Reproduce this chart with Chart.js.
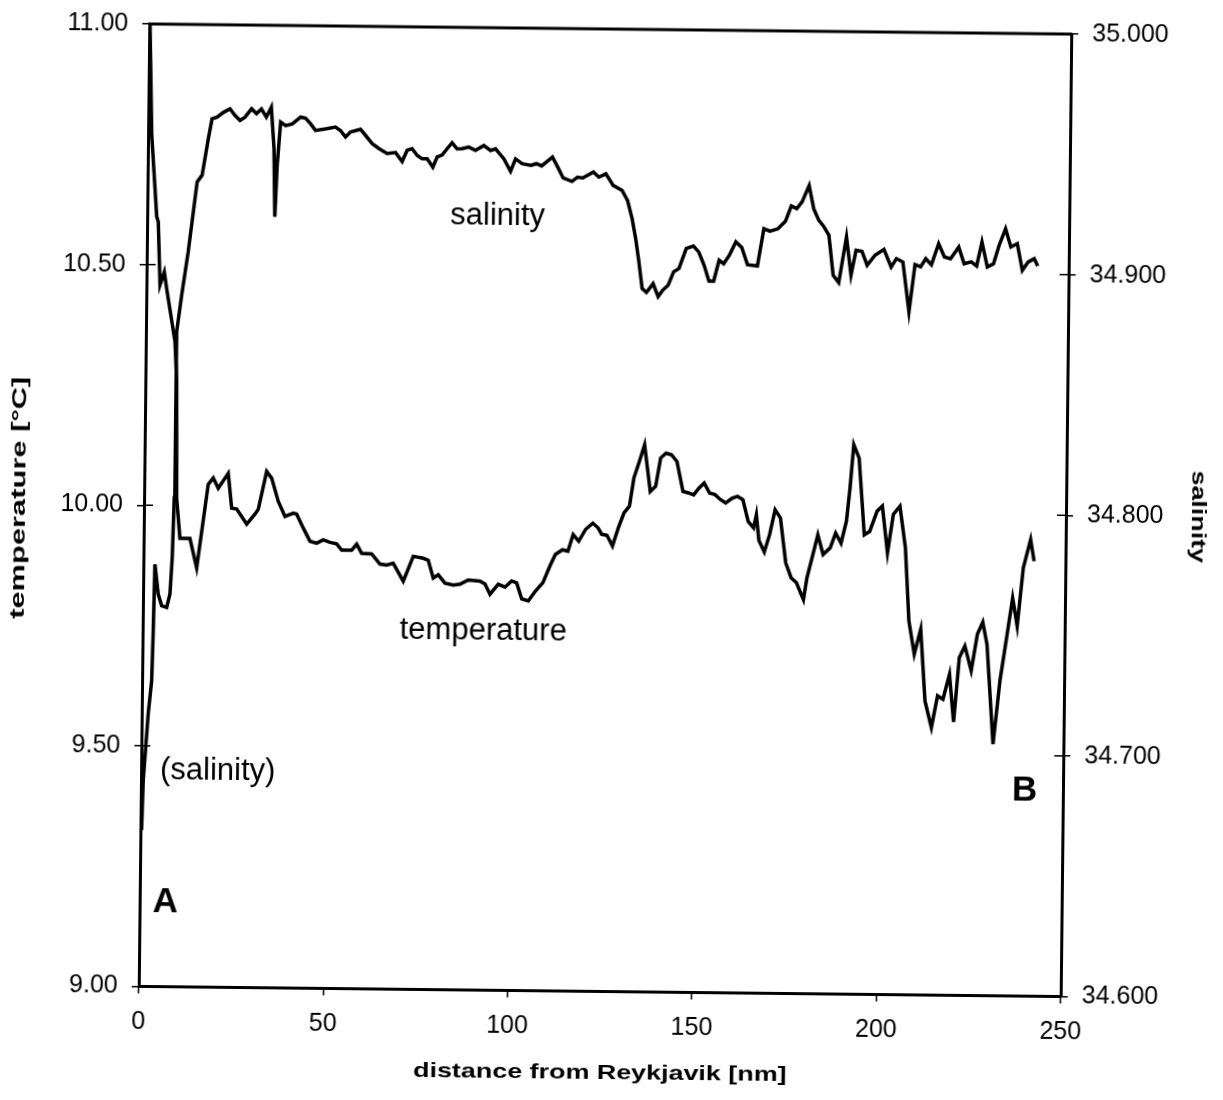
<!DOCTYPE html>
<html>
<head>
<meta charset="utf-8">
<script src="https://cdn.jsdelivr.net/npm/chart.js@4"></script>
<style>
  html, body { margin: 0; padding: 0; background: #ffffff; }
  #wrap { width: 1223px; height: 1100px; overflow: hidden; }
  canvas { display: block; transform: rotate(0.63deg); transform-origin: 605px 509px; }
</style>
</head>
<body>
<div id="wrap"><canvas id="c" width="1223" height="1100"></canvas></div>
<script>
// ---- data (distance in nm) ----
const tempDist = [0.2, 0.99, 2.58, 3.03, 3.68, 4.81, 5.51, 7.91, 8.49, 8.83,
  9.84, 12.55, 14.46, 17.36, 18.70, 20.08, 22.75, 23.77, 25.13, 27.89,
  30.11, 30.99, 33.16, 34.53, 36.39, 38.25, 40.49, 41.41, 43.25, 45.10,
  46.93, 48.70, 50.53, 52.35, 53.72, 56.43, 57.77, 59.15, 61.87, 64.15,
  65.97, 67.75, 70.52, 73.16, 75.87, 77.23, 78.64, 79.99, 81.83, 84.08,
  85.9, 88.14, 91.31, 92.68, 94.06, 96.29, 98.11, 99.91, 101.27, 102.68,
  104.47, 106.45, 108.38, 110.25, 111.68, 113.59, 115.06, 116.45, 117.96, 119.82,
  121.75, 123.2, 124.17, 125.6, 127.13, 128.68, 130.16, 131.62, 132.75, 134.17,
  135.55, 137.22, 138.67, 139.95, 141.41, 142.86, 144.37, 146.09, 147.55, 149.0,
  150.4, 151.83, 153.32, 154.78, 156.23, 157.7, 159.43, 160.88, 162.37, 163.86,
  165.34, 166.06, 166.82, 168.32, 169.7, 171.13, 172.6, 174.16, 175.66, 177.11,
  179.07, 179.96, 181.38, 182.79, 184.27, 186.2, 187.6, 189.1, 190.5, 191.38,
  192.27, 193.76, 195.38, 196.82, 198.77, 200.2, 201.72, 203.2, 204.97, 206.57,
  207.73, 209.28, 210.96, 212.33, 214.14, 215.72, 217.2, 218.9, 220.14, 221.51,
  222.98, 224.77, 226.35, 227.77, 228.98, 230.9, 232.6, 234.4, 235.8, 237.1,
  238.6, 240.5, 241.5];

const temperature = [11.00, 10.77, 10.60, 10.589, 10.458, 10.485, 10.450, 10.341, 10.258, 10.015,
  9.932, 9.932, 9.871, 10.045, 10.058, 10.037, 10.068, 9.996, 9.994, 9.963,
  9.984, 9.994, 10.073, 10.059, 10.011, 9.980, 9.987, 9.985, 9.956, 9.929,
  9.925, 9.932, 9.927, 9.924, 9.911, 9.911, 9.924, 9.905, 9.904, 9.883,
  9.881, 9.885, 9.848, 9.900, 9.896, 9.892, 9.855, 9.862, 9.845, 9.841,
  9.843, 9.852, 9.850, 9.844, 9.823, 9.844, 9.838, 9.851, 9.847, 9.814,
  9.810, 9.831, 9.848, 9.883, 9.907, 9.917, 9.914, 9.949, 9.935, 9.960,
  9.973, 9.963, 9.950, 9.948, 9.926, 9.964, 9.995, 10.009, 10.068, 10.102,
  10.137, 10.040, 10.051, 10.110, 10.120, 10.117, 10.103, 10.041, 10.038, 10.034,
  10.048, 10.059, 10.038, 10.035, 10.025, 10.018, 10.028, 10.032, 10.025, 9.980,
  9.967, 9.994, 9.941, 9.917, 9.953, 10.005, 9.988, 9.895, 9.864, 9.854,
  9.819, 9.864, 9.909, 9.954, 9.913, 9.927, 9.958, 9.937, 9.983, 10.052,
  10.142, 10.114, 9.955, 9.962, 10.004, 10.015, 9.918, 9.998, 10.015, 9.929,
  9.777, 9.708, 9.760, 9.611, 9.556, 9.622, 9.615, 9.667, 9.568, 9.702,
  9.726, 9.675, 9.751, 9.776, 9.730, 9.523, 9.655, 9.751, 9.827, 9.769,
  9.890, 9.949, 9.904];

const salDist = [0.31, 0.60, 1.76, 2.60, 2.88, 3.14, 4.12, 5.08, 6.44, 7.30,
  7.81, 8.18, 8.34, 9.59, 11.23, 13.45, 14.78, 16.35, 17.30, 18.67,
  20.47, 22.14, 23.52, 24.89, 26.23, 28.00, 29.34, 30.67, 32.02, 33.34,
  34.19, 34.60, 35.09, 35.91, 37.28, 39.08, 41.32, 42.68, 44.05, 45.38,
  48.09, 50.80, 52.16, 53.54, 54.88, 57.58, 58.96, 60.78, 62.60, 64.87,
  67.15, 68.96, 70.28, 71.63, 73.01, 74.37, 75.73, 77.30, 78.44, 79.78,
  81.12, 82.46, 83.83, 85.19, 87.00, 88.83, 91.06, 92.90, 94.25, 96.53,
  98.38, 99.70, 101.5, 103.9, 105.36, 106.8, 109.71, 111.17, 112.66, 115.08,
  116.54, 117.97, 120.86, 122.34, 124.24, 126.25, 128.68, 130.18, 131.49, 132.51,
  133.46, 134.41, 135.59, 137.37, 138.77, 140.0, 141.45, 142.89, 144.35, 146.25,
  148.18, 149.64, 151.13, 152.51, 153.78, 155.20, 156.44, 157.95, 159.68, 161.3,
  162.9, 165.6, 167.25, 168.9, 171.1, 173.07, 174.62, 176.1, 177.5, 179.39,
  180.7, 182.1, 183.4, 184.9, 186.16, 187.7, 189.67, 191.0, 192.3, 193.9,
  195.35, 197.46, 199.86, 201.86, 203.27, 205.04, 206.82, 208.33, 209.86, 211.22,
  212.77, 214.67, 216.28, 217.94, 220.13, 221.64, 223.56, 225.04, 226.42, 227.94,
  229.61, 231.08, 232.78, 234.27, 236.0, 237.44, 239.0, 240.62, 241.6];

const salinity = [34.665, 34.6856, 34.7133, 34.7271, 34.7478, 34.7755, 34.7631, 34.7583, 34.7576, 34.7632,
  34.7784, 34.8032, 34.8723, 34.8875, 34.9055, 34.9346, 34.9374, 34.9526, 34.9609, 34.9616,
  34.9637, 34.9651, 34.9624, 34.9603, 34.9617, 34.9652, 34.9632, 34.9652, 34.9618, 34.9660,
  34.9487, 34.9204, 34.9418, 34.9598, 34.9584, 34.9591, 34.9620, 34.9615, 34.9592, 34.9565,
  34.9572, 34.9580, 34.9566, 34.9539, 34.9560, 34.9572, 34.9547, 34.9513, 34.9493, 34.9472,
  34.9477, 34.9440, 34.9487, 34.9494, 34.9466, 34.9452, 34.9452, 34.9418, 34.9460, 34.9469,
  34.9495, 34.9520, 34.9495, 34.9496, 34.9503, 34.9490, 34.9510, 34.9490, 34.9497, 34.9456,
  34.9404, 34.9456, 34.9436, 34.9430, 34.9437, 34.9428, 34.9465, 34.9424, 34.9379, 34.9365,
  34.9383, 34.9380, 34.9405, 34.9384, 34.9398, 34.9350, 34.9330, 34.9289, 34.9213, 34.9130,
  34.9034, 34.8923, 34.8907, 34.8944, 34.8890, 34.8917, 34.8938, 34.8994, 34.9008, 34.9091,
  34.9102, 34.9078, 34.9023, 34.8957, 34.8957, 34.9044, 34.9030, 34.9065, 34.9121, 34.9098,
  34.9027, 34.9022, 34.9177, 34.9167, 34.9178, 34.9209, 34.9273, 34.9262, 34.9290, 34.9359,
  34.9263, 34.9215, 34.9191, 34.9153, 34.8987, 34.8957, 34.9147, 34.8988, 34.9092, 34.9088,
  34.9030, 34.9072, 34.9097, 34.9024, 34.9059, 34.9045, 34.8839, 34.9035, 34.9026, 34.9060,
  34.9035, 34.9123, 34.9068, 34.9061, 34.9110, 34.9041, 34.9049, 34.9032, 34.9132, 34.9028,
  34.9042, 34.9119, 34.9188, 34.9113, 34.9127, 34.9016, 34.9051, 34.9065, 34.9035];

const distTicks = [0, 50, 100, 150, 200, 250];
const tempTicks = [9.0, 9.5, 10.0, 10.5, 11.0];
const salTicks = [34.6, 34.7, 34.8, 34.9, 35.0];

const FONT = '"Liberation Sans", Arial, sans-serif';

function stretchedText(ctx, text, x, y, rot, sx, font, baseline) {
  ctx.save();
  ctx.translate(x, y);
  ctx.rotate(rot);
  ctx.scale(sx, 1);
  ctx.font = font;
  ctx.fillStyle = '#000';
  ctx.textAlign = 'center';
  ctx.textBaseline = baseline;
  ctx.fillText(text, 0, 0);
  ctx.restore();
}

const decor = {
  id: 'decor',
  afterDraw(chart) {
    const { ctx, chartArea: a, scales } = chart;
    ctx.save();
    ctx.strokeStyle = '#000';
    ctx.lineWidth = 3;
    ctx.beginPath();
    ctx.moveTo(a.left - 1, a.top);
    ctx.lineTo(a.right + 1, a.top);
    ctx.stroke();
    ctx.lineWidth = 1.5;
    tempTicks.forEach(v => {
      const y = scales.y.getPixelForValue(v);
      ctx.beginPath(); ctx.moveTo(a.left, y); ctx.lineTo(a.left + 9, y); ctx.stroke();
    });
    salTicks.forEach(v => {
      const y = scales.y1.getPixelForValue(v);
      ctx.beginPath(); ctx.moveTo(a.right - 9, y); ctx.lineTo(a.right, y); ctx.stroke();
    });
    // axis titles
    const cx = (a.left + a.right) / 2, cy = (a.top + a.bottom) / 2;
    stretchedText(ctx, 'distance from Reykjavik [nm]', cx + 1, 1079, 0, 1.28, 'bold 21px ' + FONT, 'alphabetic');
    stretchedText(ctx, 'temperature [°C]', 19, cy - 6, -Math.PI / 2, 1.47, 'bold 21px ' + FONT, 'middle');
    stretchedText(ctx, 'salinity', 1198, cy, Math.PI / 2, 1.28, 'bold 21px ' + FONT, 'middle');
    // annotations
    ctx.fillStyle = '#000';
    ctx.textAlign = 'left';
    ctx.textBaseline = 'alphabetic';
    ctx.font = '31px ' + FONT;
    ctx.fillText('salinity', 447, 226);
    ctx.fillText('temperature', 401, 641);
    ctx.fillText('(salinity)', 163, 784);
    ctx.font = 'bold 35px ' + FONT;
    ctx.fillText('A', 157, 917);
    ctx.fillText('B', 1015, 796);
    ctx.restore();
  }
};

const tickFont = { family: FONT, size: 25 };

new Chart(document.getElementById('c'), {
  type: 'line',
  data: {
    datasets: [
      {
        label: 'temperature',
        data: tempDist.map((d, i) => ({ x: d, y: temperature[i] })),
        yAxisID: 'y',
        borderColor: '#000',
        borderWidth: 3.5,
        pointRadius: 0,
        tension: 0,
        fill: false
      },
      {
        label: 'salinity',
        data: salDist.map((d, i) => ({ x: d, y: salinity[i] })),
        yAxisID: 'y1',
        borderColor: '#000',
        borderWidth: 3.5,
        pointRadius: 0,
        tension: 0,
        fill: false
      }
    ]
  },
  options: {
    responsive: false,
    devicePixelRatio: 1,
    animation: false,
    layout: { padding: { top: 26.5, left: 0, right: 0, bottom: 0 } },
    plugins: { legend: { display: false }, tooltip: { enabled: false } },
    scales: {
      x: {
        type: 'linear',
        min: 0, max: 250,
        afterBuildTicks: s => { s.ticks = distTicks.map(v => ({ value: v })); },
        afterFit: s => { s.height = 108.5; },
        ticks: { font: tickFont, color: '#000', padding: 14, maxRotation: 0, callback: v => String(v) },
        grid: { display: true, drawOnChartArea: false, drawTicks: true, tickLength: 7, color: '#000', lineWidth: 1.5 },
        border: { display: true, color: '#000', width: 3 }
      },
      y: {
        type: 'linear',
        position: 'left',
        min: 9, max: 11,
        afterBuildTicks: s => { s.ticks = tempTicks.map(v => ({ value: v })); },
        afterFit: s => { s.width = 144; },
        ticks: { font: tickFont, color: '#000', padding: 14, callback: v => Number(v).toFixed(2) },
        grid: { display: true, drawOnChartArea: false, drawTicks: true, tickLength: 7, color: '#000', lineWidth: 1.5 },
        border: { display: true, color: '#000', width: 3 }
      },
      y1: {
        type: 'linear',
        position: 'right',
        min: 34.6, max: 35.0,
        afterBuildTicks: s => { s.ticks = salTicks.map(v => ({ value: v })); },
        afterFit: s => { s.width = 157; },
        ticks: { font: tickFont, color: '#000', padding: 14, callback: v => Number(v).toFixed(3) },
        grid: { display: true, drawOnChartArea: false, drawTicks: true, tickLength: 7, color: '#000', lineWidth: 1.5 },
        border: { display: true, color: '#000', width: 3 }
      }
    }
  },
  plugins: [decor]
});
</script>
</body>
</html>
